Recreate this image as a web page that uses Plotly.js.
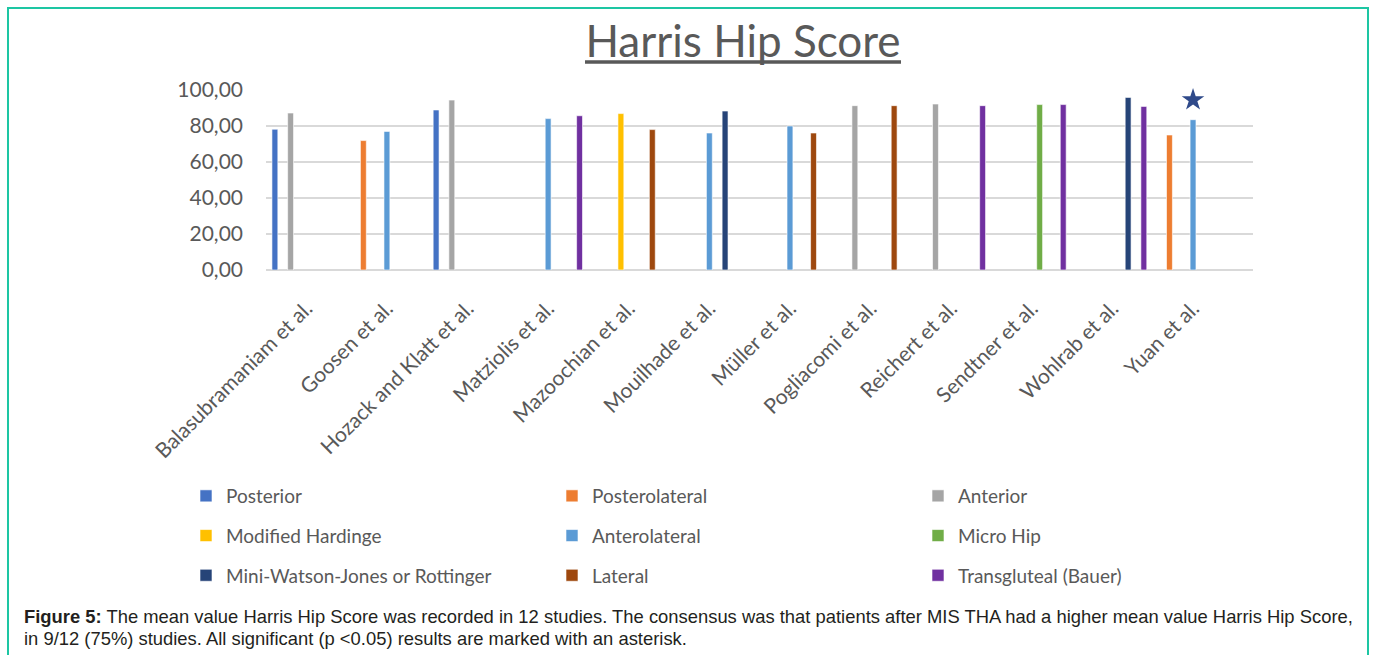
<!DOCTYPE html>
<html>
<head>
<meta charset="utf-8">
<script src="https://cdn.plot.ly/plotly-3.0.1.min.js"></script>
<style>
html,body{margin:0;padding:0;background:#fff;overflow:hidden;}
#chart{position:absolute;left:0;top:0;width:1375px;height:655px;}
#frame{position:absolute;left:7px;top:7px;width:1362px;height:700px;border:2px solid #1DC6A3;box-sizing:border-box;pointer-events:none;}
</style>
</head>
<body>
<div id="chart"></div>
<div id="frame"></div>
<script>
var studies = ['Balasubramaniam et al.','Goosen et al.','Hozack and Klatt et al.','Matziolis et al.','Mazoochian et al.','Mouilhade et al.','Müller et al.','Pogliacomi et al.','Reichert et al.','Sendtner et al.','Wohlrab et al.','Yuan et al.'];

var posterior        = [78.2, null, 88.9, null, null, null, null, null, null, null, null, null];
var posterolateral   = [null, 71.9, null, null, null, null, null, null, null, null, null, 75.0];
var anterior         = [87.2, null, 94.4, null, null, null, null, 91.3, 92.2, null, null, null];
var modifiedHardinge = [null, null, null, null, 86.9, null, null, null, null, null, null, null];
var anterolateral    = [null, 77.0, null, 84.1, null, 76.1, 80.0, null, null, null, null, 83.5];
var microHip         = [null, null, null, null, null, null, null, null, null, 91.9, null, null];
var miniWatsonJones  = [null, null, null, null, null, 88.3, null, null, null, null, 95.9, null];
var lateral          = [null, null, null, null, 78.0, null, 76.1, 91.3, null, null, null, null];
var transgluteal     = [null, null, null, 85.7, null, null, null, null, 91.3, 91.9, 90.9, null];

var seriesNames = ['Posterior','Posterolateral','Anterior','Modified Hardinge','Anterolateral','Micro Hip','Mini-Watson-Jones or Rottinger','Lateral','Transgluteal (Bauer)'];
var seriesValues = [posterior, posterolateral, anterior, modifiedHardinge, anterolateral, microHip, miniWatsonJones, lateral, transgluteal];
var seriesColors = ['#4472C4','#ED7D31','#A5A5A5','#FFC000','#5B9BD5','#70AD47','#264478','#9E480E','#7030A0'];
// legend columns (Excel lays the legend out row by row, three per row)
var legendIds = ['legend','legend2','legend3','legend','legend2','legend3','legend','legend2','legend3'];

var sigStudies = ['Yuan et al.'];
var sigMarkY = [94.5];

var captionLine1 = '<b>Figure 5:</b> The mean value Harris Hip Score was recorded in 12 studies. The consensus was that patients after MIS THA had a higher mean value Harris Hip Score,';
var captionLine2 = 'in 9/12 (75%) studies. All significant (p <0.05) results are marked with an asterisk.';

var traces = seriesNames.map(function(n, i){
  return {
    type:'bar', name:n, x:studies, y:seriesValues[i], legendgroup:'g' + i,
    marker:{color:seriesColors[i], line:{color:'#ffffff', width:0.6}},
    legend:legendIds[i], hoverinfo:'skip'
  };
});
traces.push({
  type:'scatter', mode:'markers', x:sigStudies, y:sigMarkY, showlegend:false,
  marker:{symbol:'star', size:17, color:'#2F4A8A'}, cliponaxis:false, hoverinfo:'skip'
});

var gray = '#595959';
var legendFont = {family:'Lato, sans-serif', size:19, color:gray};
function leg(xPix){
  return {orientation:'v', xref:'container', yref:'container', x:xPix/1375, y:1 - 477/655,
    xanchor:'left', yanchor:'top', font:legendFont, tracegroupgap:12,
    bgcolor:'rgba(0,0,0,0)', itemclick:false, itemdoubleclick:false};
}

var layout = {
  width:1375, height:655,
  margin:{l:266, r:122, t:90, b:385, autoexpand:false},
  paper_bgcolor:'#ffffff', plot_bgcolor:'#ffffff',
  separators:',.',
  barmode:'group', bargap:0.123, bargroupgap:0.25,
  title:{text:'Harris Hip Score', font:{family:'Lato, sans-serif', size:44, color:gray},
    x:743/1375, xanchor:'center', xref:'container', y:1 - 42/655, yanchor:'middle', yref:'container'},
  xaxis:{type:'category', tickangle:-45, tickfont:{family:'Lato, sans-serif', size:21, color:gray},
    showgrid:false, showline:false, ticks:'', ticklabelstandoff:21, fixedrange:true, automargin:false},
  yaxis:{range:[0,100], dtick:20, tick0:0, tickformat:'.2f', showgrid:true, gridcolor:'#D9D9D9', gridwidth:1.3,
    zeroline:true, zerolinecolor:'#D9D9D9', zerolinewidth:1.5, showline:false, ticks:'',
    tickfont:{family:'Lato, sans-serif', size:21, color:gray}, ticklabelstandoff:22, fixedrange:true, automargin:false},
  legend:leg(186), legend2:leg(552), legend3:leg(918),
  shapes:[{type:'line', xref:'paper', yref:'paper', x0:(585-266)/987, x1:(901-266)/987,
    y0:(270-62)/180, y1:(270-62)/180, line:{color:gray, width:3.5}}],
  annotations:[
    {xref:'paper', yref:'paper', x:(22-266)/987, y:(270-616)/180, xanchor:'left', yanchor:'middle', align:'left',
     showarrow:false, font:{family:'Liberation Sans, Arial, sans-serif', size:18.4, color:'#231F20'}, text:captionLine1},
    {xref:'paper', yref:'paper', x:(22-266)/987, y:(270-638)/180, xanchor:'left', yanchor:'middle', align:'left',
     showarrow:false, font:{family:'Liberation Sans, Arial, sans-serif', size:18.4, color:'#231F20'}, text:captionLine2}
  ],
  showlegend:true
};

Plotly.newPlot('chart', traces, layout, {displayModeBar:false, staticPlot:true});
</script>
</body>
</html>
